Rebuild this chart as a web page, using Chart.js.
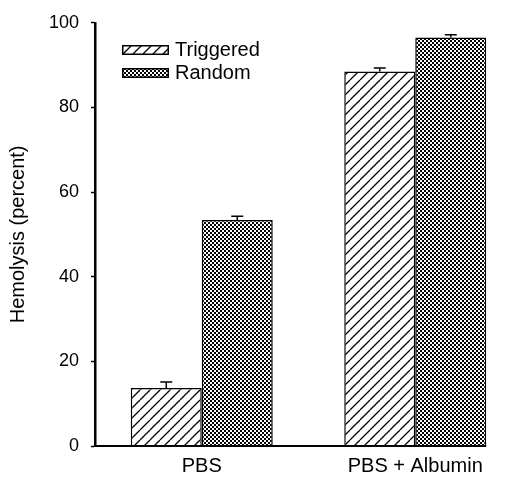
<!DOCTYPE html>
<html>
<head>
<meta charset="utf-8">
<script src="https://cdn.jsdelivr.net/npm/chart.js@4"></script>
<style>
  html, body { margin: 0; padding: 0; background: #fff; overflow: hidden; }
  #wrap { position: relative; width: 522px; height: 485px; }
  #legend { position: absolute; left: 122px; top: 38px; font: 20px "Liberation Sans", Arial, sans-serif; color: #000; }
  #legend .row { display: flex; align-items: center; height: 23px; }
  #legend canvas { margin-right: 6px; }
</style>
</head>
<body>
<div id="wrap">
  <canvas id="c" width="522" height="485"></canvas>
  <div id="legend"></div>
</div>
<script>
const categories   = ['PBS', 'PBS + Albumin'];
const seriesNames  = ['Triggered', 'Random'];
const triggered    = [13.7, 88.5];
const triggeredErr = [1.4, 0.8];
const random       = [53.4, 96.5];
const randomErr    = [0.9, 0.7];
const yTicks       = [0, 20, 40, 60, 80, 100];

/* ---------- 填充圖樣 ---------- */
function hatchTile() {
    const t = document.createElement('canvas');
    t.width = t.height = 10;
    const g = t.getContext('2d');
    g.fillStyle = '#fff';
    g.fillRect(0, 0, 10, 10);
    g.strokeStyle = '#000';
    g.lineWidth = 1.3;
    g.beginPath();
    [-10, 0, 10].forEach((dx) => {
        g.moveTo(dx, 10);
        g.lineTo(dx + 10, 0);
    });
    g.stroke();
    return t;
}
function checkTile() {
    const t = document.createElement('canvas');
    t.width = t.height = 4;
    const g = t.getContext('2d');
    g.fillStyle = '#000';
    g.fillRect(0, 0, 4, 4);
    g.fillStyle = '#fff';
    g.fillRect(0, 0, 2, 2);
    g.fillRect(2, 2, 2, 2);
    return t;
}
const ctx = document.getElementById('c').getContext('2d');
const hatch = ctx.createPattern(hatchTile(), 'repeat');
const check = ctx.createPattern(checkTile(), 'repeat');

/* ---------- 圖例 (HTML) ---------- */
[[seriesNames[0], hatchTile], [seriesNames[1], checkTile]].forEach(([name, tile]) => {
    const row = document.createElement('div');
    row.className = 'row';
    const sw = document.createElement('canvas');
    sw.width = 47; sw.height = 10;
    const g = sw.getContext('2d');
    g.fillStyle = g.createPattern(tile(), 'repeat');
    g.fillRect(0, 0, 47, 10);
    g.strokeStyle = '#000';
    g.lineWidth = 1.5;
    g.strokeRect(0.75, 0.75, 45.5, 8.5);
    row.appendChild(sw);
    row.appendChild(document.createTextNode(name));
    document.getElementById('legend').appendChild(row);
});

/* ---------- 誤差線 + 底線 ---------- */
const extras = {
    id: 'extras',
    afterDatasetsDraw(chart) {
        const c = chart.ctx;
        const y = chart.scales.y;
        const errs = [triggeredErr, randomErr];
        c.save();
        c.strokeStyle = '#000';
        c.lineWidth = 1.5;
        chart.data.datasets.forEach((ds, i) => {
            chart.getDatasetMeta(i).data.forEach((bar, j) => {
                const top = y.getPixelForValue(ds.data[j] + errs[i][j]);
                c.beginPath();
                c.moveTo(bar.x, bar.y);
                c.lineTo(bar.x, top);
                c.moveTo(bar.x - 6, top);
                c.lineTo(bar.x + 6, top);
                c.stroke();
            });
        });
        // x 軸底線, 到最後一根柱子為止
        const last = chart.getDatasetMeta(1).data[1];
        const base = y.getPixelForValue(0);
        c.lineWidth = 2;
        c.beginPath();
        c.moveTo(chart.chartArea.left, base);
        c.lineTo(last.x + last.width / 2, base);
        c.stroke();
        c.restore();
    }
};

Chart.defaults.font.family = '"Liberation Sans", Arial, sans-serif';
Chart.defaults.color = '#000';

new Chart(ctx, {
    type: 'bar',
    data: {
        labels: categories,
        datasets: [
            { label: seriesNames[0], data: triggered, backgroundColor: hatch, borderColor: '#000', borderWidth: 1.5 },
            { label: seriesNames[1], data: random,    backgroundColor: check, borderColor: '#000', borderWidth: 1.5 }
        ]
    },
    options: {
        responsive: false,
        animation: false,
        layout: { padding: { top: 20, right: 0, left: 0, bottom: 0 } },
        datasets: { bar: { categoryPercentage: 0.665, barPercentage: 1 } },
        plugins: { legend: { display: false }, tooltip: { enabled: false } },
        scales: {
            x: {
                grid: { display: false, drawTicks: false },
                border: { display: false },
                ticks: { font: { size: 20 }, padding: 8 },
                afterFit: (s) => { s.height = 39; }
            },
            y: {
                min: 0, max: 100,
                afterBuildTicks: (s) => { s.ticks = yTicks.map(v => ({ value: v })); },
                grid: { drawOnChartArea: false, tickLength: 4, tickWidth: 1.5, color: '#000' },
                border: { display: true, color: '#000', width: 2.5 },
                ticks: { font: { size: 18 }, padding: 12 },
                title: { display: true, text: 'Hemolysis (percent)', font: { size: 20 }, padding: { top: 6, bottom: 0 } },
                afterFit: (s) => { s.width = 95; }
            }
        }
    },
    plugins: [extras]
});
</script>
</body>
</html>
